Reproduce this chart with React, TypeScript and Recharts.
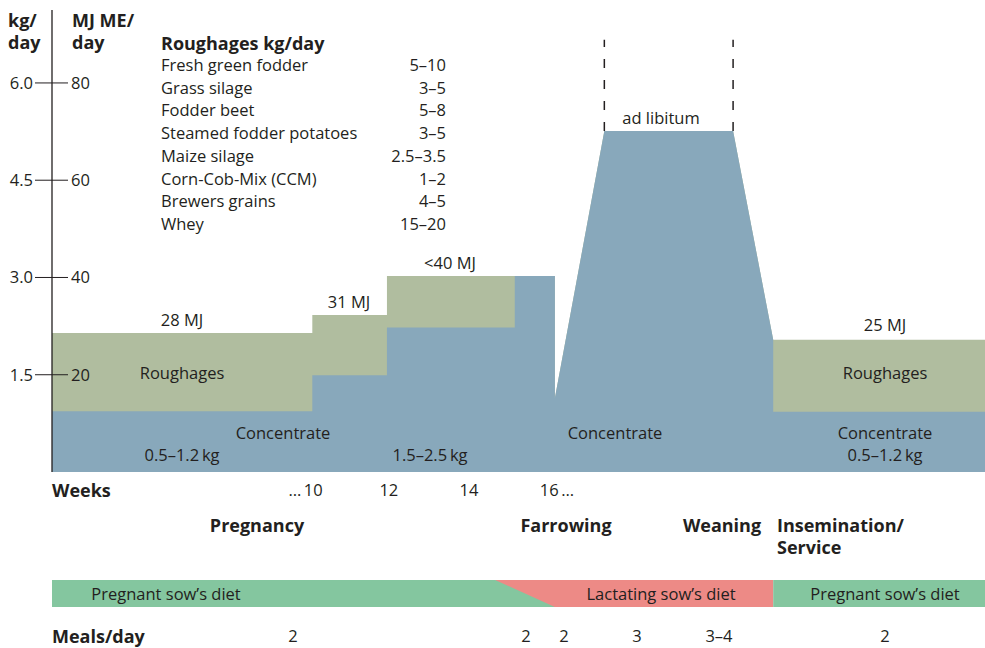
import React from 'react';
import {
  ComposedChart,
  Area,
  XAxis,
  YAxis,
  ReferenceLine,
} from 'recharts';

// timeline position (0-100) for each breakpoint of the feeding curve
const feedT = [0, 27.9, 27.9, 35.9, 35.9, 49.6, 49.6, 53.9, 53.9, 59.2, 73.0, 77.3, 77.3, 100];
// total energy (concentrate + roughages), MJ ME/day
const totalMJ = [28.6, 28.6, 32.3, 32.3, 40.3, 40.3, 40.3, 40.3, 15.2, 70.1, 70.1, 27.2, 27.2, 27.2];
// concentrate only, MJ ME/day
const concentrateMJ = [12.5, 12.5, 19.9, 19.9, 29.7, 29.7, 40.3, 40.3, 15.2, 70.1, 70.1, 27.2, 12.4, 12.4];

const mjTicks = [20, 40, 60, 80];
const kgLabels = ['1.5', '3.0', '4.5', '6.0'];

const weekTicks = [28.0, 36.1, 44.7, 53.3];
const weekLabels = ['… 10', '12', '14', '16 …'];

// ad libitum window (start/end of plateau), MJ range of the dashed markers
const adLibT = [59.2, 73.0];
const adLibMJ = [70.1, 88.9];

const roughageNames = [
  'Fresh green fodder',
  'Grass silage',
  'Fodder beet',
  'Steamed fodder potatoes',
  'Maize silage',
  'Corn-Cob-Mix (CCM)',
  'Brewers grains',
  'Whey',
];
const roughageAmounts = ['5–10', '3–5', '5–8', '3–5', '2.5–3.5', '1–2', '4–5', '15–20'];

// diet bar: pregnant diet (green) and lactating diet (red)
const dietT = [0, 47.5, 47.5, 53.9, 77.3, 77.3, 100];
const pregnantDiet = [1, 1, 1, 0, 0, 1, 1];
const lactatingDiet = [0, 0, 1, 1, 1, 0, 0];

const mealsPerDay = ['2', '2', '2', '3', '3–4', '2'];

const feedData = feedT.map((t, i) => ({ t, total: totalMJ[i], conc: concentrateMJ[i] }));
const dietData = dietT.map((t, i) => ({ t, preg: pregnantDiet[i], lact: lactatingDiet[i] }));

const FONT = '"Open Sans", sans-serif';
const INK = '#231f20';
const BLUE = '#88a8bb';
const OLIVE = '#b0bd9f';
const GREEN = '#84c69f';
const RED = '#ed8a86';

function Txt({ x, y, a = 'start', b = false, children }: any) {
  const tx = a === 'middle' ? '-50%' : a === 'end' ? '-100%' : '0';
  return (
    <div
      style={{
        position: 'absolute',
        left: x,
        top: y,
        transform: `translate(${tx},-50%)`,
        whiteSpace: 'nowrap',
        fontWeight: b ? 700 : 400,
        fontSize: b ? 18 : 16.5,
        lineHeight: 1,
      }}
    >
      {children}
    </div>
  );
}

// two-line bold title, top-left anchored
function Title2({ x, y, lines }: any) {
  return (
    <div
      style={{
        position: 'absolute',
        left: x,
        top: y,
        fontWeight: 700,
        fontSize: 18,
        lineHeight: '22px',
        whiteSpace: 'nowrap',
      }}
    >
      {lines[0]}
      <br />
      {lines[1]}
    </div>
  );
}

const YTick = ({ y, payload }: any) => {
  const i = mjTicks.indexOf(payload.value);
  return (
    <g fontFamily={FONT} fontSize={16.5} fill={INK}>
      <line x1={35} x2={68} y1={y} y2={y} stroke={INK} strokeWidth={1} />
      <text x={33} y={y} dy={6} textAnchor="end">{kgLabels[i]}</text>
      <text x={71} y={y} dy={6} textAnchor="start">{payload.value}</text>
    </g>
  );
};

const XTick = ({ x, y, payload }: any) => {
  const label = weekLabels[weekTicks.indexOf(payload.value)] || '';
  const num = label.replace('…', '').trim();
  return (
    <g fontFamily={FONT} fontSize={16.5} fill={INK}>
      <text x={x} y={y} dy={24} textAnchor="middle">{num}</text>
      {label.startsWith('…') && (
        <text x={x - 12} y={y} dy={24} textAnchor="end">…</text>
      )}
      {label.endsWith('…') && (
        <text x={x + 12} y={y} dy={24} textAnchor="start">…</text>
      )}
    </g>
  );
};

export default function App() {
  return (
    <div
      style={{
        position: 'absolute',
        left: 0,
        top: 0,
        width: 985,
        height: 648,
        fontFamily: FONT,
        fontSize: 16.5,
        color: INK,
        background: '#fff',
      }}
    >
      <div style={{ position: 'absolute', left: 0, top: 0 }}>
        <ComposedChart
          width={985}
          height={510}
          data={feedData}
          margin={{ top: 10, right: 0, bottom: 0, left: 0 }}
        >
          <Area
            type="linear"
            dataKey="total"
            stroke="none"
            fill={OLIVE}
            fillOpacity={1}
            isAnimationActive={false}
          />
          <Area
            type="linear"
            dataKey="conc"
            stroke="none"
            fill={BLUE}
            fillOpacity={1}
            isAnimationActive={false}
          />
          {adLibT.map((t) => (
            <ReferenceLine
              key={t}
              segment={[{ x: t, y: adLibMJ[0] }, { x: t, y: adLibMJ[1] }]}
              stroke={INK}
              strokeWidth={1.5}
              strokeDasharray="9 12"
            />
          ))}
          <XAxis
            dataKey="t"
            type="number"
            domain={[0, 100]}
            ticks={weekTicks}
            interval={0}
            axisLine={false}
            tickLine={false}
            tickSize={0}
            tickMargin={0}
            height={38}
            tick={<XTick />}
          />
          <YAxis
            type="number"
            domain={[0, 95]}
            ticks={mjTicks}
            width={52}
            axisLine={{ stroke: INK, strokeWidth: 1.3 }}
            tickLine={false}
            tick={<YTick />}
          />
        </ComposedChart>
      </div>

      {/* axis titles */}
      <Title2 x={8} y={9} lines={['kg/', 'day']} />
      <Title2 x={72} y={9} lines={['MJ ME/', 'day']} />

      {/* roughage table */}
      <Txt x={161} y={43} b>Roughages kg/day</Txt>
      {roughageNames.map((n, i) => (
        <React.Fragment key={n}>
          <Txt x={161} y={65 + i * 22.7}>{n}</Txt>
          <Txt x={446} y={65 + i * 22.7} a="end">{roughageAmounts[i]}</Txt>
        </React.Fragment>
      ))}

      {/* plot labels */}
      <Txt x={182} y={320} a="middle">28 MJ</Txt>
      <Txt x={349} y={302} a="middle">31 MJ</Txt>
      <Txt x={450} y={263} a="middle">&lt;40 MJ</Txt>
      <Txt x={661} y={118} a="middle">ad libitum</Txt>
      <Txt x={885} y={325} a="middle">25 MJ</Txt>
      <Txt x={182} y={373} a="middle">Roughages</Txt>
      <Txt x={885} y={373} a="middle">Roughages</Txt>
      <Txt x={283} y={433} a="middle">Concentrate</Txt>
      <Txt x={615} y={433} a="middle">Concentrate</Txt>
      <Txt x={885} y={433} a="middle">Concentrate</Txt>
      <Txt x={182} y={455} a="middle">0.5–1.2&#8201;kg</Txt>
      <Txt x={430} y={455} a="middle">1.5–2.5&#8201;kg</Txt>
      <Txt x={885} y={455} a="middle">0.5–1.2&#8201;kg</Txt>

      {/* x axis title and phases */}
      <Txt x={52} y={490} b>Weeks</Txt>
      <Txt x={257} y={525} a="middle" b>Pregnancy</Txt>
      <Txt x={566} y={525} a="middle" b>Farrowing</Txt>
      <Txt x={722} y={525} a="middle" b>Weaning</Txt>
      <Title2 x={777} y={514} lines={['Insemination/', 'Service']} />

      {/* diet bar */}
      <div style={{ position: 'absolute', left: 0, top: 580 }}>
        <ComposedChart
          width={985}
          height={27}
          data={dietData}
          margin={{ top: 0, right: 0, bottom: 0, left: 52 }}
        >
          <XAxis dataKey="t" type="number" domain={[0, 100]} hide />
          <YAxis type="number" domain={[0, 1]} hide />
          <Area
            type="linear"
            dataKey="lact"
            stroke="none"
            fill={RED}
            fillOpacity={1}
            isAnimationActive={false}
          />
          <Area
            type="linear"
            dataKey="preg"
            stroke="none"
            fill={GREEN}
            fillOpacity={1}
            isAnimationActive={false}
          />
        </ComposedChart>
      </div>
      <Txt x={166} y={594} a="middle">Pregnant sow’s diet</Txt>
      <Txt x={661} y={594} a="middle">Lactating sow’s diet</Txt>
      <Txt x={885} y={594} a="middle">Pregnant sow’s diet</Txt>

      {/* meals per day */}
      <Txt x={52} y={636} b>Meals/day</Txt>
      <Txt x={293} y={636} a="middle">{mealsPerDay[0]}</Txt>
      <Txt x={526} y={636} a="middle">{mealsPerDay[1]}</Txt>
      <Txt x={564} y={636} a="middle">{mealsPerDay[2]}</Txt>
      <Txt x={637} y={636} a="middle">{mealsPerDay[3]}</Txt>
      <Txt x={719} y={636} a="middle">{mealsPerDay[4]}</Txt>
      <Txt x={885} y={636} a="middle">{mealsPerDay[5]}</Txt>
    </div>
  );
}
